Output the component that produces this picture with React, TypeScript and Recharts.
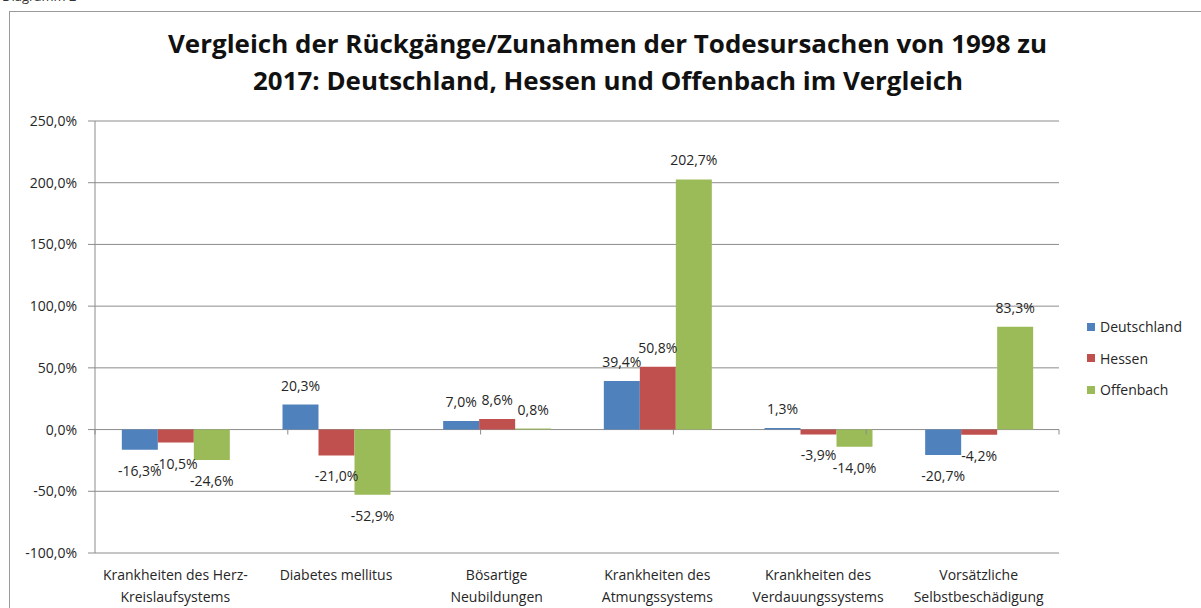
import React from 'react';
import {
  BarChart,
  Bar,
  XAxis,
  YAxis,
  CartesianGrid,
  ReferenceLine,
  LabelList,
} from 'recharts';

const categories = [
  'Krankheiten des Herz-\nKreislaufsystems',
  'Diabetes mellitus',
  'Bösartige\nNeubildungen',
  'Krankheiten des\nAtmungssystems',
  'Krankheiten des\nVerdauungssystems',
  'Vorsätzliche\nSelbstbeschädigung',
];

const deutschland = [-16.3, 20.3, 7.0, 39.4, 1.3, -20.7];
const hessen = [-10.5, -21.0, 8.6, 50.8, -3.9, -4.2];
const offenbach = [-24.6, -52.9, 0.8, 202.7, -14.0, 83.3];

const yTicks = [-100, -50, 0, 50, 100, 150, 200, 250];
const boundaries = [0, 1, 2, 3, 4, 5, 6];

const titleLines = [
  'Vergleich der Rückgänge/Zunahmen der Todesursachen von 1998 zu',
  '2017: Deutschland, Hessen und Offenbach im Vergleich',
];

const series = [
  { key: 'deutschland', name: 'Deutschland', color: '#4F81BD' },
  { key: 'hessen', name: 'Hessen', color: '#C0504D' },
  { key: 'offenbach', name: 'Offenbach', color: '#9BBB59' },
];

const data = categories.map((name, i) => ({
  name,
  deutschland: deutschland[i],
  hessen: hessen[i],
  offenbach: offenbach[i],
}));

const FONT = '"Open Sans", "Liberation Sans", sans-serif';
const TEXT = '#262626';
const GRID = '#8c8c8c';

const pct = (v: number) => v.toFixed(1).replace('.', ',') + '%';

const ValueLabel = (props: any) => {
  const { x, y, width, height, value } = props;
  const top = Math.min(y, y + height);
  const bottom = Math.max(y, y + height);
  const ty = value >= 0 ? top - 14 : bottom + 26;
  return (
    <text x={x + width / 2} y={ty} textAnchor="middle" fontSize={14} fontFamily={FONT} fill={TEXT}>
      {pct(value)}
    </text>
  );
};

const CategoryTick = (props: any) => {
  const { x, y, payload } = props;
  const lines = String(payload.value).split('\n');
  return (
    <g>
      {lines.map((line, i) => (
        <text key={i} x={x} y={y + 27 + i * 22} textAnchor="middle" fontSize={14} fontFamily={FONT} fill={TEXT}>
          {line}
        </text>
      ))}
    </g>
  );
};

export default function App() {
  return (
    <div style={{ position: 'absolute', left: 0, top: 0, width: 1201, height: 608, overflow: 'hidden', background: '#fff' }}>
      <div style={{ position: 'absolute', left: 2, top: -13, fontSize: 13, fontFamily: FONT, color: '#333' }}>Diagramm 2</div>
      <div style={{ position: 'absolute', left: 9, top: 11, width: 1220, height: 640, border: '1px solid #9a9a9a' }} />

      <svg style={{ position: 'absolute', left: 0, top: 0 }} width={1201} height={110}>
        <text x={168} y={53} textLength={879} lengthAdjust="spacingAndGlyphs" fontSize={25} fontWeight="bold" fontFamily={FONT} fill="#111">
          {titleLines[0]}
        </text>
        <text x={253} y={90} textLength={710} lengthAdjust="spacingAndGlyphs" fontSize={25} fontWeight="bold" fontFamily={FONT} fill="#111">
          {titleLines[1]}
        </text>
      </svg>

      <div style={{ position: 'absolute', left: 0, top: 0 }}>
        <BarChart
          width={1201}
          height={608}
          data={data}
          margin={{ top: 121, right: 142, bottom: 5, left: 10 }}
          barCategoryGap="16.7%"
          barGap={0}
        >
          <CartesianGrid vertical={false} stroke={GRID} />
          <XAxis
            xAxisId="cat"
            dataKey="name"
            interval={0}
            axisLine={false}
            tickLine={false}
            tickSize={0}
            tickMargin={0}
            height={50}
            tick={<CategoryTick />}
          />
          <XAxis xAxisId="grid" type="number" domain={[0, 6]} hide />
          <YAxis
            domain={[-100, 250]}
            ticks={yTicks}
            interval={0}
            width={85}
            tickFormatter={pct}
            tickSize={7}
            tickMargin={11}
            axisLine={{ stroke: GRID }}
            tickLine={{ stroke: GRID }}
            tick={{ fontSize: 14, fontFamily: FONT, fill: TEXT }}
          />
          {boundaries.map(b => (
            <ReferenceLine
              key={b}
              xAxisId="grid"
              segment={[{ x: b, y: 0 }, { x: b, y: -4 }]}
              stroke={GRID}
            />
          ))}
          {series.map(s => (
            <Bar key={s.key} xAxisId="cat" dataKey={s.key} name={s.name} fill={s.color} isAnimationActive={false}>
              <LabelList dataKey={s.key} content={<ValueLabel />} />
            </Bar>
          ))}
        </BarChart>
      </div>

      <div style={{ position: 'absolute', left: 1087, top: 316, fontFamily: FONT, fontSize: 14, color: TEXT }}>
        {series.map(s => (
          <div key={s.key} style={{ display: 'flex', alignItems: 'center', height: 21, marginBottom: 10.5 }}>
            <span style={{ display: 'inline-block', width: 8, height: 8, background: s.color, marginRight: 5 }} />
            {s.name}
          </div>
        ))}
      </div>
    </div>
  );
}
